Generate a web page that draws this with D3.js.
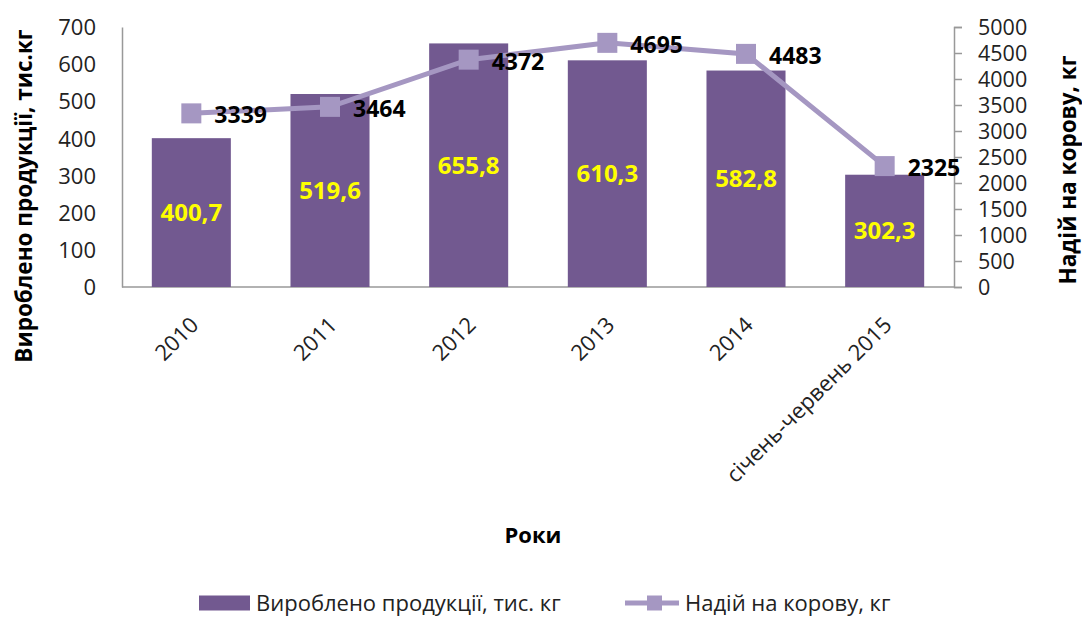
<html>
<head>
<meta charset="utf-8">
<script src="https://d3js.org/d3.v7.min.js"></script>
<style>
  body { margin: 0; background: #fff; }
  text { font-family: "Open Sans", sans-serif; }
</style>
</head>
<body>
<svg></svg>
<script>
  // data
  var years = ["2010", "2011", "2012", "2013", "2014", "січень-червень 2015"];
  var produced = [400.7, 519.6, 655.8, 610.3, 582.8, 302.3];
  var milkYield = [3339, 3464, 4372, 4695, 4483, 2325];
  var leftTicks = [0, 100, 200, 300, 400, 500, 600, 700];
  var rightTicks = [0, 500, 1000, 1500, 2000, 2500, 3000, 3500, 4000, 4500, 5000];

  var width = 1082, height = 617;
  var margin = { left: 122, right: 128, top: 27, bottom: 330 };
  var barColor = "#725990", lineColor = "#a597c2";
  var fs = 22;

  var svg = d3.select("svg").attr("width", width).attr("height", height);

  var x = d3.scaleBand()
    .domain(years)
    .range([margin.left, width - margin.right])
    .paddingInner(0.43)
    .paddingOuter(0.215);
  var xc = d3.scaleBand().domain(years).range([margin.left, width - margin.right]);
  var yL = d3.scaleLinear().domain([0, 700]).range([height - margin.bottom, margin.top]);
  var yR = d3.scaleLinear().domain([0, 5000]).range([height - margin.bottom, margin.top]);

  // axes
  var axL = svg.append("g")
    .attr("transform", "translate(" + margin.left + ",0)")
    .call(d3.axisLeft(yL).tickValues(leftTicks).tickSize(0).tickPadding(26));
  axL.selectAll("text").attr("font-size", fs).attr("fill", "#222").attr("dy", "0.35em");
  axL.select(".domain").attr("stroke", "#999").attr("stroke-width", 1.5);

  var axR = svg.append("g")
    .attr("transform", "translate(" + (width - margin.right) + ",0)")
    .call(d3.axisRight(yR).tickValues(rightTicks).tickFormat(d3.format("d")).tickSize(8).tickPadding(16));
  axR.selectAll("text").attr("font-size", 21.5).attr("fill", "#222").attr("dy", "0.35em");
  axR.selectAll("line, .domain").attr("stroke", "#999").attr("stroke-width", 1.5);

  svg.append("line")
    .attr("x1", margin.left).attr("x2", width - margin.right)
    .attr("y1", yL(0)).attr("y2", yL(0))
    .attr("stroke", "#999").attr("stroke-width", 1.5);

  // bars
  svg.selectAll(".bar").data(produced).enter().append("rect")
    .attr("x", function(d, i) { return x(years[i]); })
    .attr("y", function(d) { return yL(d); })
    .attr("width", x.bandwidth())
    .attr("height", function(d) { return yL(0) - yL(d); })
    .attr("fill", barColor);

  svg.selectAll(".barlabel").data(produced).enter().append("text")
    .attr("x", function(d, i) { return x(years[i]) + x.bandwidth() / 2; })
    .attr("y", function(d) { return (yL(d) + yL(0)) / 2; })
    .attr("dy", "0.35em")
    .attr("text-anchor", "middle")
    .attr("font-size", 24).attr("font-weight", "bold").attr("fill", "#ffff00")
    .text(function(d) { return String(d).replace(".", ","); });

  // line
  var cx = function(i) { return xc(years[i]) + xc.bandwidth() / 2; };
  var line = d3.line()
    .x(function(d, i) { return cx(i); })
    .y(function(d) { return yR(d); });

  svg.append("path")
    .datum(milkYield)
    .attr("fill", "none")
    .attr("stroke", lineColor)
    .attr("stroke-width", 5)
    .attr("d", line);

  svg.selectAll(".pt").data(milkYield).enter().append("rect")
    .attr("x", function(d, i) { return cx(i) - 10; })
    .attr("y", function(d) { return yR(d) - 10; })
    .attr("width", 20).attr("height", 20)
    .attr("fill", lineColor);

  svg.selectAll(".ptlabel").data(milkYield).enter().append("text")
    .attr("x", function(d, i) { return cx(i) + 23; })
    .attr("y", function(d) { return yR(d) + 2; })
    .attr("dy", "0.35em")
    .attr("font-size", 23).attr("font-weight", "bold").attr("fill", "#000")
    .text(function(d) { return d; });

  // x labels
  svg.selectAll(".xl").data(years).enter().append("text")
    .attr("transform", function(d, i) {
      return "translate(" + (cx(i) + 3) + "," + (yL(0) + 34) + ") rotate(-45)";
    })
    .attr("text-anchor", "end")
    .attr("dy", "0.35em")
    .attr("font-size", fs).attr("fill", "#222")
    .text(function(d) { return d; });

  // titles
  svg.append("text")
    .attr("transform", "translate(24,196) rotate(-90)")
    .attr("text-anchor", "middle").attr("dy", "0.35em")
    .attr("font-size", 22.5).attr("font-weight", "bold")
    .text("Вироблено продукції, тис.кг");
  svg.append("text")
    .attr("transform", "translate(1068,170) rotate(-90)")
    .attr("text-anchor", "middle").attr("dy", "0.35em")
    .attr("font-size", 22.5).attr("font-weight", "bold")
    .text("Надій на корову, кг");
  svg.append("text")
    .attr("x", 533).attr("y", 535).attr("dy", "0.35em")
    .attr("text-anchor", "middle")
    .attr("font-size", fs).attr("font-weight", "bold")
    .text("Роки");

  // legend
  var lg = svg.append("g").attr("transform", "translate(0,603)");
  lg.append("rect").attr("x", 199).attr("y", -7.5).attr("width", 51).attr("height", 15).attr("fill", barColor);
  lg.append("text").attr("x", 256).attr("y", 0).attr("dy", "0.35em")
    .attr("font-size", fs).attr("fill", "#222").text("Вироблено продукції, тис. кг");
  lg.append("line").attr("x1", 625).attr("x2", 679).attr("y1", 0).attr("y2", 0)
    .attr("stroke", lineColor).attr("stroke-width", 5);
  lg.append("rect").attr("x", 647).attr("y", -7.5).attr("width", 15).attr("height", 15).attr("fill", lineColor);
  lg.append("text").attr("x", 685).attr("y", 0).attr("dy", "0.35em")
    .attr("font-size", fs).attr("fill", "#222").text("Надій на корову, кг");
</script>
</body>
</html>
